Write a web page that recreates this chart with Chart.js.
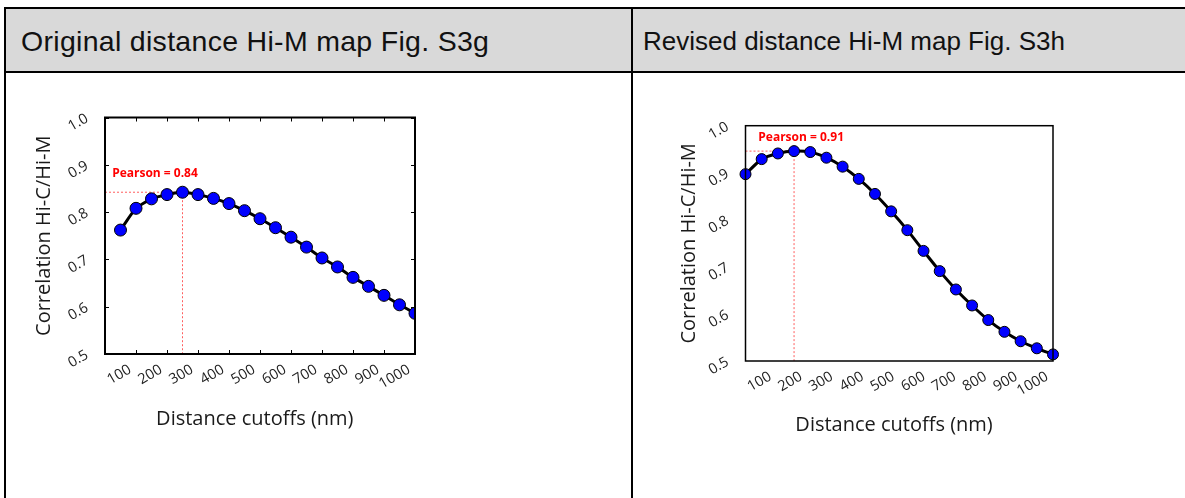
<!DOCTYPE html>
<html>
<head>
<meta charset="utf-8">
<script src="https://cdn.jsdelivr.net/npm/chart.js@4.4.1/dist/chart.umd.min.js"></script>
<style>
  body { margin: 0; background: #fff; width: 1185px; height: 498px; overflow: hidden; position: relative; }
  .head { position: absolute; top: 9px; left: 5px; width: 1185px; height: 63px; background: #d9d9d9; }
  .rule { position: absolute; background: #000; }
  .cap { position: absolute; font-family: 'Liberation Sans', Arial, sans-serif; font-size: 26px; line-height: 1; color: #111; white-space: nowrap; }
  canvas { position: absolute; }
</style>
</head>
<body>
<div class="head"></div>
<div class="rule" style="left:4px;top:7px;width:1181px;height:2px"></div>
<div class="rule" style="left:4px;top:71px;width:1181px;height:2px"></div>
<div class="rule" style="left:4px;top:7px;width:2px;height:491px"></div>
<div class="rule" style="left:631px;top:7px;width:2px;height:491px"></div>
<div class="cap" style="left:21px;top:27px;font-size:28.5px;letter-spacing:0.3px">Original distance Hi-M map Fig. S3g</div>
<div class="cap" style="left:643px;top:28px">Revised distance Hi-M map Fig. S3h</div>
<canvas id="orig" width="624" height="424" style="left:7px;top:74px"></canvas>
<canvas id="rev" width="551" height="424" style="left:634px;top:74px"></canvas>

<script>
// distance cutoffs (nm) shared by both maps
var cutoffs = [50, 100, 150, 200, 250, 300, 350, 400, 450, 500,
               550, 600, 650, 700, 750, 800, 850, 900, 950, 1000];

// correlation Hi-C / Hi-M for each cutoff
var originalCorr = [0.762, 0.808, 0.828, 0.837, 0.842, 0.837, 0.829, 0.818, 0.803, 0.786,
                    0.767, 0.747, 0.726, 0.703, 0.684, 0.662, 0.643, 0.624, 0.604, 0.586];
var revisedCorr = [0.897, 0.929, 0.941, 0.946, 0.944, 0.932, 0.913, 0.887, 0.855, 0.818,
                   0.778, 0.734, 0.691, 0.652, 0.618, 0.587, 0.562, 0.542, 0.527, 0.514];

var originalPearson = 'Pearson = 0.84';
var revisedPearson = 'Pearson = 0.91';

var xTickValues = [100, 200, 300, 400, 500, 600, 700, 800, 900, 1000];
var yTickValues = [0.5, 0.6, 0.7, 0.8, 0.9, 1.0];

Chart.defaults.font.family = "'Open Sans', sans-serif";
Chart.defaults.color = '#222';

function points(values) {
    return cutoffs.map(function (c, i) { return { x: c, y: values[i] }; });
}

// black box round the plot, optionally with small inward ticks
var framePlugin = {
    id: 'frame',
    afterDatasetsDraw: function (chart, args, opts) {
        var ctx = chart.ctx, a = chart.chartArea;
        ctx.save();
        ctx.strokeStyle = '#000';
        ctx.lineWidth = opts.width;
        ctx.strokeRect(a.left, a.top, a.right - a.left, a.bottom - a.top);
        if (opts.ticks) {
            ctx.lineWidth = 1;
            ctx.beginPath();
            var xs = chart.scales[opts.tickScale];
            xs.ticks.forEach(function (t) {
                var px = Math.round(xs.getPixelForValue(t.value)) + 0.5;
                ctx.moveTo(px, a.top); ctx.lineTo(px, a.top + 4);
                ctx.moveTo(px, a.bottom); ctx.lineTo(px, a.bottom - 4);
            });
            var ys = chart.scales.y;
            ys.ticks.forEach(function (t) {
                var py = Math.round(ys.getPixelForValue(t.value)) + 0.5;
                ctx.moveTo(a.left, py); ctx.lineTo(a.left + 4, py);
                ctx.moveTo(a.right, py); ctx.lineTo(a.right - 4, py);
            });
            ctx.stroke();
        }
        ctx.restore();
    }
};

// red dotted guides to the best cutoff plus the label
var pearsonPlugin = {
    id: 'pearson',
    beforeDatasetsDraw: function (chart, args, o) {
        var ctx = chart.ctx, a = chart.chartArea;
        var xs = chart.scales.x, ys = chart.scales.y;
        var data = chart.data.datasets[0].data;
        var best = data[0];
        data.forEach(function (d) { if (d.y > best.y) best = d; });
        var px = xs.getPixelForValue(best.x), py = ys.getPixelForValue(best.y);
        ctx.save();
        ctx.strokeStyle = 'rgba(255,40,40,0.75)';
        ctx.lineWidth = 1;
        ctx.setLineDash([2, 2]);
        ctx.beginPath();
        ctx.moveTo(a.left, py); ctx.lineTo(px, py);
        ctx.moveTo(px, py); ctx.lineTo(px, a.bottom);
        ctx.stroke();
        ctx.setLineDash([]);
        ctx.fillStyle = '#ff0000';
        ctx.font = "bold 12px 'Open Sans', sans-serif";
        ctx.textBaseline = 'alphabetic';
        ctx.fillText(o.text, xs.getPixelForValue(o.tx), ys.getPixelForValue(o.ty));
        ctx.restore();
    }
};

function lineDataset(values, radius, clip) {
    return {
        data: points(values),
        borderColor: '#000',
        borderWidth: 3,
        tension: 0.2,
        pointRadius: radius,
        pointBackgroundColor: '#0000ff',
        pointBorderColor: '#000',
        pointBorderWidth: 1,
        clip: clip
    };
}

function yScale(width) {
    return {
        min: 0.5, max: 1.0,
        afterFit: function (s) { s.width = width; },
        afterBuildTicks: function (s) { s.ticks = yTickValues.map(function (v) { return { value: v }; }); },
        grid: { display: false, drawTicks: false },
        border: { display: false },
        ticks: { font: { size: 14.5 }, padding: 18, minRotation: 30, maxRotation: 30,
                 callback: function (v) { return v.toFixed(1); } },
        title: { display: true, text: 'Correlation Hi-C/Hi-M', color: '#1a1a1a',
                 font: { size: 20 }, padding: 0 }
    };
}

function xLabelScale(height) {
    return {
        type: 'linear',
        position: 'bottom',
        min: 0, max: 1000,
        afterFit: function (s) { s.height = height; },
        afterBuildTicks: function (s) { s.ticks = [0].concat(xTickValues).map(function (v) { return { value: v }; }); },
        grid: { display: false, drawTicks: false },
        border: { display: false },
        ticks: { font: { size: 14.5 }, padding: 7, labelOffset: -6, minRotation: 30, maxRotation: 30, autoSkip: false,
                 callback: function (v) { return v === 0 ? '' : String(v); } },
        // trailing spaces nudge the centred title a little to the left
        title: { display: true, text: 'Distance cutoffs (nm)  ', color: '#1a1a1a',
                 font: { size: 20 }, padding: 0 }
    };
}

new Chart(document.getElementById('orig'), {
    type: 'line',
    data: { datasets: [lineDataset(originalCorr, 6, undefined)] },
    options: {
        responsive: false,
        animation: false,
        layout: { padding: { left: 25, top: 43.5, right: 216, bottom: 66.5 } },
        plugins: {
            legend: { display: false },
            tooltip: { enabled: false },
            frame: { width: 2, ticks: true, tickScale: 'x' },
            pearson: { text: originalPearson, tx: 23, ty: 0.874 }
        },
        scales: {
            x: xLabelScale(77.5),
            y: yScale(73)
        }
    },
    plugins: [framePlugin, pearsonPlugin]
});

new Chart(document.getElementById('rev'), {
    type: 'line',
    data: { datasets: [lineDataset(revisedCorr, 5.5, false)] },
    options: {
        responsive: false,
        animation: false,
        layout: { padding: { left: 43, top: 51.7, right: 132, bottom: 60.5 } },
        plugins: {
            legend: { display: false },
            tooltip: { enabled: false },
            frame: { width: 1.5, ticks: false },
            pearson: { text: revisedPearson, tx: 89.5, ty: 0.967 }
        },
        scales: {
            x: { type: 'linear', display: false, min: 50, max: 1000 },
            xl: xLabelScale(76.5),
            y: yScale(68.5)
        }
    },
    plugins: [framePlugin, pearsonPlugin]
});
</script>
</body>
</html>
